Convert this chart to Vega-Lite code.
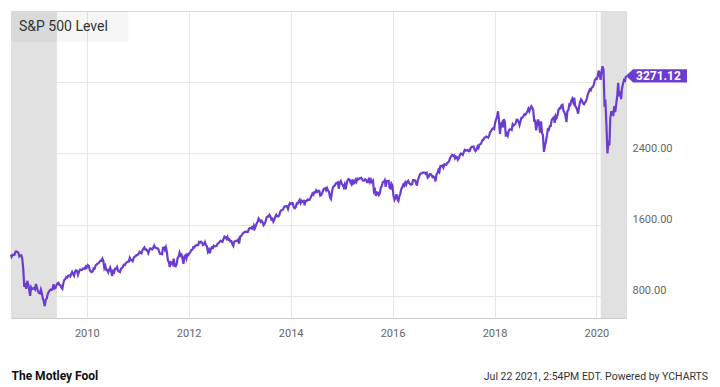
{
"$schema": "https://vega.github.io/schema/vega-lite/v6.json",
"width": 615, "height": 307,
"autosize": {"type": "none"},
"padding": {"left": 11, "top": 11, "right": 94, "bottom": 69},
"background": "white",
"config": {
 "font": "Roboto",
 "view": {"stroke": "#dddddd"},
 "axis": {"grid": true, "gridColor": "#e6e6e6", "ticks": false, "tickSize": 0, "labelColor": "#666666", "labelFont": "Roboto", "labelFontSize": 11, "domain": false}
},
"title": {"text": "Jul 22 2021, 2:54PM EDT.  Powered by YCHARTS", "orient": "bottom", "anchor": "end", "frame": "group", "fontSize": 10.5, "fontWeight": "normal", "color": "#333333", "offset": -9, "dx": 82},
"datasets": {
"rec": [{"s":"2008-07-07","e":"2009-06-01"},{"s":"2020-02-01","e":"2020-07-31"}],
"sp": [
{"d":"2008-07-07","v":1262},{"d":"2008-07-11","v":1239},{"d":"2008-07-18","v":1260},{"d":"2008-07-25","v":1257},{"d":"2008-08-01","v":1260},{"d":"2008-08-08","v":1296},{"d":"2008-08-15","v":1298},{"d":"2008-08-22","v":1292},{"d":"2008-08-29","v":1282},{"d":"2008-09-05","v":1242},{"d":"2008-09-12","v":1252},{"d":"2008-09-19","v":1255},{"d":"2008-09-26","v":1213},{"d":"2008-10-03","v":1099},{"d":"2008-10-10","v":899},{"d":"2008-10-17","v":940},{"d":"2008-10-24","v":877},{"d":"2008-10-31","v":968},{"d":"2008-11-07","v":930},{"d":"2008-11-14","v":873},{"d":"2008-11-21","v":800},{"d":"2008-11-28","v":896},{"d":"2008-12-05","v":876},{"d":"2008-12-12","v":879},{"d":"2008-12-19","v":887},{"d":"2008-12-26","v":872},
{"d":"2009-01-02","v":932},{"d":"2009-01-09","v":890},{"d":"2009-01-16","v":850},{"d":"2009-01-23","v":832},{"d":"2009-01-30","v":826},{"d":"2009-02-06","v":869},{"d":"2009-02-13","v":827},{"d":"2009-02-20","v":770},{"d":"2009-02-27","v":735},{"d":"2009-03-06","v":683},{"d":"2009-03-13","v":756},{"d":"2009-03-20","v":769},{"d":"2009-03-27","v":816},{"d":"2009-04-03","v":843},{"d":"2009-04-09","v":857},{"d":"2009-04-17","v":870},{"d":"2009-04-24","v":866},{"d":"2009-05-01","v":877},{"d":"2009-05-08","v":929},{"d":"2009-05-15","v":882},{"d":"2009-05-22","v":887},{"d":"2009-05-29","v":919},{"d":"2009-06-05","v":940},{"d":"2009-06-12","v":946},{"d":"2009-06-19","v":921},{"d":"2009-06-26","v":918},{"d":"2009-07-02","v":896},{"d":"2009-07-10","v":879},{"d":"2009-07-17","v":940},{"d":"2009-07-24","v":979},{"d":"2009-07-31","v":987},{"d":"2009-08-07","v":1010},{"d":"2009-08-14","v":1005},{"d":"2009-08-21","v":1026},{"d":"2009-08-28","v":1029},{"d":"2009-09-04","v":1016},{"d":"2009-09-11","v":1042},{"d":"2009-09-18","v":1068},{"d":"2009-09-25","v":1044},{"d":"2009-10-02","v":1025},{"d":"2009-10-09","v":1072},{"d":"2009-10-16","v":1087},{"d":"2009-10-23","v":1080},{"d":"2009-10-30","v":1036},{"d":"2009-11-06","v":1069},{"d":"2009-11-13","v":1093},{"d":"2009-11-20","v":1091},{"d":"2009-11-27","v":1091},{"d":"2009-12-04","v":1106},{"d":"2009-12-11","v":1106},{"d":"2009-12-18","v":1102},{"d":"2009-12-24","v":1127},{"d":"2009-12-31","v":1115},
{"d":"2010-01-08","v":1145},{"d":"2010-01-15","v":1136},{"d":"2010-01-22","v":1092},{"d":"2010-01-29","v":1074},{"d":"2010-02-05","v":1066},{"d":"2010-02-12","v":1075},{"d":"2010-02-19","v":1109},{"d":"2010-02-26","v":1104},{"d":"2010-03-05","v":1139},{"d":"2010-03-12","v":1150},{"d":"2010-03-19","v":1160},{"d":"2010-03-26","v":1167},{"d":"2010-04-02","v":1178},{"d":"2010-04-09","v":1194},{"d":"2010-04-16","v":1192},{"d":"2010-04-23","v":1217},{"d":"2010-04-30","v":1187},{"d":"2010-05-07","v":1111},{"d":"2010-05-14","v":1136},{"d":"2010-05-21","v":1088},{"d":"2010-05-28","v":1089},{"d":"2010-06-04","v":1064},{"d":"2010-06-11","v":1092},{"d":"2010-06-18","v":1117},{"d":"2010-06-25","v":1076},{"d":"2010-07-02","v":1022},{"d":"2010-07-09","v":1078},{"d":"2010-07-16","v":1065},{"d":"2010-07-23","v":1103},{"d":"2010-07-30","v":1102},{"d":"2010-08-06","v":1122},{"d":"2010-08-13","v":1080},{"d":"2010-08-20","v":1071},{"d":"2010-08-27","v":1065},{"d":"2010-09-03","v":1105},{"d":"2010-09-10","v":1110},{"d":"2010-09-17","v":1126},{"d":"2010-09-24","v":1149},{"d":"2010-10-01","v":1146},{"d":"2010-10-08","v":1166},{"d":"2010-10-15","v":1176},{"d":"2010-10-22","v":1183},{"d":"2010-10-29","v":1183},{"d":"2010-11-05","v":1226},{"d":"2010-11-12","v":1200},{"d":"2010-11-19","v":1200},{"d":"2010-11-26","v":1189},{"d":"2010-12-03","v":1225},{"d":"2010-12-10","v":1240},{"d":"2010-12-17","v":1244},{"d":"2010-12-23","v":1257},{"d":"2010-12-31","v":1258},
{"d":"2011-01-07","v":1272},{"d":"2011-01-14","v":1293},{"d":"2011-01-21","v":1283},{"d":"2011-01-28","v":1276},{"d":"2011-02-04","v":1311},{"d":"2011-02-11","v":1329},{"d":"2011-02-18","v":1343},{"d":"2011-02-25","v":1320},{"d":"2011-03-04","v":1321},{"d":"2011-03-11","v":1304},{"d":"2011-03-18","v":1279},{"d":"2011-03-25","v":1314},{"d":"2011-04-01","v":1332},{"d":"2011-04-08","v":1328},{"d":"2011-04-15","v":1320},{"d":"2011-04-21","v":1337},{"d":"2011-04-29","v":1364},{"d":"2011-05-06","v":1340},{"d":"2011-05-13","v":1338},{"d":"2011-05-20","v":1333},{"d":"2011-05-27","v":1331},{"d":"2011-06-03","v":1300},{"d":"2011-06-10","v":1271},{"d":"2011-06-17","v":1271},{"d":"2011-06-24","v":1268},{"d":"2011-07-01","v":1340},{"d":"2011-07-08","v":1344},{"d":"2011-07-15","v":1316},{"d":"2011-07-22","v":1345},{"d":"2011-07-29","v":1292},{"d":"2011-08-05","v":1199},{"d":"2011-08-12","v":1178},{"d":"2011-08-19","v":1123},{"d":"2011-08-26","v":1177},{"d":"2011-09-02","v":1174},{"d":"2011-09-09","v":1154},{"d":"2011-09-16","v":1216},{"d":"2011-09-23","v":1136},{"d":"2011-09-30","v":1131},{"d":"2011-10-07","v":1155},{"d":"2011-10-14","v":1224},{"d":"2011-10-21","v":1238},{"d":"2011-10-28","v":1285},{"d":"2011-11-04","v":1253},{"d":"2011-11-11","v":1263},{"d":"2011-11-18","v":1216},{"d":"2011-11-25","v":1159},{"d":"2011-12-02","v":1244},{"d":"2011-12-09","v":1255},{"d":"2011-12-16","v":1219},{"d":"2011-12-23","v":1265},{"d":"2011-12-30","v":1258},
{"d":"2012-01-06","v":1278},{"d":"2012-01-13","v":1289},{"d":"2012-01-20","v":1315},{"d":"2012-01-27","v":1316},{"d":"2012-02-03","v":1345},{"d":"2012-02-10","v":1342},{"d":"2012-02-17","v":1361},{"d":"2012-02-24","v":1366},{"d":"2012-03-02","v":1370},{"d":"2012-03-09","v":1370},{"d":"2012-03-16","v":1404},{"d":"2012-03-23","v":1397},{"d":"2012-03-30","v":1408},{"d":"2012-04-06","v":1398},{"d":"2012-04-13","v":1370},{"d":"2012-04-20","v":1379},{"d":"2012-04-27","v":1403},{"d":"2012-05-04","v":1369},{"d":"2012-05-11","v":1353},{"d":"2012-05-18","v":1295},{"d":"2012-05-25","v":1318},{"d":"2012-06-01","v":1278},{"d":"2012-06-08","v":1325},{"d":"2012-06-15","v":1343},{"d":"2012-06-22","v":1335},{"d":"2012-06-29","v":1362},{"d":"2012-07-06","v":1355},{"d":"2012-07-13","v":1357},{"d":"2012-07-20","v":1363},{"d":"2012-07-27","v":1386},{"d":"2012-08-03","v":1391},{"d":"2012-08-10","v":1406},{"d":"2012-08-17","v":1418},{"d":"2012-08-24","v":1411},{"d":"2012-08-31","v":1407},{"d":"2012-09-07","v":1438},{"d":"2012-09-14","v":1466},{"d":"2012-09-21","v":1460},{"d":"2012-09-28","v":1441},{"d":"2012-10-05","v":1461},{"d":"2012-10-12","v":1429},{"d":"2012-10-19","v":1433},{"d":"2012-10-26","v":1412},{"d":"2012-11-02","v":1414},{"d":"2012-11-09","v":1380},{"d":"2012-11-16","v":1360},{"d":"2012-11-23","v":1409},{"d":"2012-11-30","v":1416},{"d":"2012-12-07","v":1418},{"d":"2012-12-14","v":1413},{"d":"2012-12-21","v":1430},{"d":"2012-12-28","v":1385},
{"d":"2013-01-04","v":1466},{"d":"2013-01-11","v":1472},{"d":"2013-01-18","v":1486},{"d":"2013-01-25","v":1503},{"d":"2013-02-01","v":1513},{"d":"2013-02-08","v":1518},{"d":"2013-02-15","v":1520},{"d":"2013-02-22","v":1516},{"d":"2013-03-01","v":1518},{"d":"2013-03-08","v":1551},{"d":"2013-03-15","v":1561},{"d":"2013-03-22","v":1556},{"d":"2013-03-28","v":1569},{"d":"2013-04-05","v":1553},{"d":"2013-04-12","v":1588},{"d":"2013-04-19","v":1555},{"d":"2013-04-26","v":1582},{"d":"2013-05-03","v":1614},{"d":"2013-05-10","v":1633},{"d":"2013-05-17","v":1667},{"d":"2013-05-24","v":1650},{"d":"2013-05-31","v":1631},{"d":"2013-06-07","v":1643},{"d":"2013-06-14","v":1626},{"d":"2013-06-21","v":1593},{"d":"2013-06-28","v":1606},{"d":"2013-07-05","v":1632},{"d":"2013-07-12","v":1680},{"d":"2013-07-19","v":1692},{"d":"2013-07-26","v":1691},{"d":"2013-08-02","v":1709},{"d":"2013-08-09","v":1691},{"d":"2013-08-16","v":1655},{"d":"2013-08-23","v":1664},{"d":"2013-08-30","v":1633},{"d":"2013-09-06","v":1655},{"d":"2013-09-13","v":1688},{"d":"2013-09-20","v":1710},{"d":"2013-09-27","v":1692},{"d":"2013-10-04","v":1690},{"d":"2013-10-11","v":1703},{"d":"2013-10-18","v":1745},{"d":"2013-10-25","v":1759},{"d":"2013-11-01","v":1762},{"d":"2013-11-08","v":1771},{"d":"2013-11-15","v":1798},{"d":"2013-11-22","v":1804},{"d":"2013-11-29","v":1806},{"d":"2013-12-06","v":1805},{"d":"2013-12-13","v":1775},{"d":"2013-12-20","v":1818},{"d":"2013-12-27","v":1841},
{"d":"2014-01-03","v":1831},{"d":"2014-01-10","v":1842},{"d":"2014-01-17","v":1838},{"d":"2014-01-24","v":1790},{"d":"2014-01-31","v":1783},{"d":"2014-02-07","v":1797},{"d":"2014-02-14","v":1838},{"d":"2014-02-21","v":1836},{"d":"2014-02-28","v":1859},{"d":"2014-03-07","v":1878},{"d":"2014-03-14","v":1841},{"d":"2014-03-21","v":1866},{"d":"2014-03-28","v":1857},{"d":"2014-04-04","v":1865},{"d":"2014-04-11","v":1816},{"d":"2014-04-17","v":1864},{"d":"2014-04-25","v":1863},{"d":"2014-05-02","v":1881},{"d":"2014-05-09","v":1878},{"d":"2014-05-16","v":1878},{"d":"2014-05-23","v":1900},{"d":"2014-05-30","v":1924},{"d":"2014-06-06","v":1949},{"d":"2014-06-13","v":1936},{"d":"2014-06-20","v":1963},{"d":"2014-06-27","v":1961},{"d":"2014-07-03","v":1985},{"d":"2014-07-11","v":1968},{"d":"2014-07-18","v":1978},{"d":"2014-07-25","v":1978},{"d":"2014-08-01","v":1925},{"d":"2014-08-08","v":1932},{"d":"2014-08-15","v":1955},{"d":"2014-08-22","v":1988},{"d":"2014-08-29","v":2003},{"d":"2014-09-05","v":2008},{"d":"2014-09-12","v":1985},{"d":"2014-09-19","v":2010},{"d":"2014-09-26","v":1982},{"d":"2014-10-03","v":1968},{"d":"2014-10-10","v":1906},{"d":"2014-10-17","v":1887},{"d":"2014-10-24","v":1965},{"d":"2014-10-31","v":2018},{"d":"2014-11-07","v":2032},{"d":"2014-11-14","v":2039},{"d":"2014-11-21","v":2064},{"d":"2014-11-28","v":2068},{"d":"2014-12-05","v":2075},{"d":"2014-12-12","v":2003},{"d":"2014-12-19","v":2071},{"d":"2014-12-26","v":2089},
{"d":"2015-01-02","v":2058},{"d":"2015-01-09","v":2045},{"d":"2015-01-16","v":2019},{"d":"2015-01-23","v":2051},{"d":"2015-01-30","v":1995},{"d":"2015-02-06","v":2055},{"d":"2015-02-13","v":2097},{"d":"2015-02-20","v":2110},{"d":"2015-02-27","v":2105},{"d":"2015-03-06","v":2071},{"d":"2015-03-13","v":2053},{"d":"2015-03-20","v":2108},{"d":"2015-03-27","v":2061},{"d":"2015-04-02","v":2067},{"d":"2015-04-10","v":2102},{"d":"2015-04-17","v":2081},{"d":"2015-04-24","v":2117},{"d":"2015-05-01","v":2108},{"d":"2015-05-08","v":2116},{"d":"2015-05-15","v":2123},{"d":"2015-05-22","v":2126},{"d":"2015-05-29","v":2107},{"d":"2015-06-05","v":2092},{"d":"2015-06-12","v":2094},{"d":"2015-06-19","v":2110},{"d":"2015-06-26","v":2102},{"d":"2015-07-02","v":2077},{"d":"2015-07-10","v":2077},{"d":"2015-07-17","v":2127},{"d":"2015-07-24","v":2079},{"d":"2015-07-31","v":2104},{"d":"2015-08-07","v":2078},{"d":"2015-08-14","v":2092},{"d":"2015-08-21","v":1971},{"d":"2015-08-28","v":1989},{"d":"2015-09-04","v":1921},{"d":"2015-09-11","v":1961},{"d":"2015-09-18","v":1958},{"d":"2015-09-25","v":1932},{"d":"2015-10-02","v":1951},{"d":"2015-10-09","v":2015},{"d":"2015-10-16","v":2033},{"d":"2015-10-23","v":2075},{"d":"2015-10-30","v":2079},{"d":"2015-11-06","v":2099},{"d":"2015-11-13","v":2023},{"d":"2015-11-20","v":2089},{"d":"2015-11-27","v":2090},{"d":"2015-12-04","v":2092},{"d":"2015-12-11","v":2012},{"d":"2015-12-18","v":2006},{"d":"2015-12-24","v":2061},{"d":"2015-12-31","v":2044},
{"d":"2016-01-08","v":1922},{"d":"2016-01-15","v":1880},{"d":"2016-01-22","v":1907},{"d":"2016-01-29","v":1940},{"d":"2016-02-05","v":1880},{"d":"2016-02-12","v":1865},{"d":"2016-02-19","v":1918},{"d":"2016-02-26","v":1948},{"d":"2016-03-04","v":2000},{"d":"2016-03-11","v":2022},{"d":"2016-03-18","v":2050},{"d":"2016-03-24","v":2036},{"d":"2016-04-01","v":2073},{"d":"2016-04-08","v":2048},{"d":"2016-04-15","v":2081},{"d":"2016-04-22","v":2092},{"d":"2016-04-29","v":2065},{"d":"2016-05-06","v":2057},{"d":"2016-05-13","v":2047},{"d":"2016-05-20","v":2052},{"d":"2016-05-27","v":2099},{"d":"2016-06-03","v":2099},{"d":"2016-06-10","v":2096},{"d":"2016-06-17","v":2071},{"d":"2016-06-24","v":2037},{"d":"2016-07-01","v":2103},{"d":"2016-07-08","v":2130},{"d":"2016-07-15","v":2162},{"d":"2016-07-22","v":2175},{"d":"2016-07-29","v":2174},{"d":"2016-08-05","v":2183},{"d":"2016-08-12","v":2184},{"d":"2016-08-19","v":2184},{"d":"2016-08-26","v":2169},{"d":"2016-09-02","v":2180},{"d":"2016-09-09","v":2128},{"d":"2016-09-16","v":2139},{"d":"2016-09-23","v":2165},{"d":"2016-09-30","v":2168},{"d":"2016-10-07","v":2153},{"d":"2016-10-14","v":2133},{"d":"2016-10-21","v":2141},{"d":"2016-10-28","v":2126},{"d":"2016-11-04","v":2085},{"d":"2016-11-11","v":2164},{"d":"2016-11-18","v":2182},{"d":"2016-11-25","v":2213},{"d":"2016-12-02","v":2192},{"d":"2016-12-09","v":2259},{"d":"2016-12-16","v":2258},{"d":"2016-12-23","v":2263},{"d":"2016-12-30","v":2239},
{"d":"2017-01-06","v":2277},{"d":"2017-01-13","v":2275},{"d":"2017-01-20","v":2271},{"d":"2017-01-27","v":2295},{"d":"2017-02-03","v":2297},{"d":"2017-02-10","v":2316},{"d":"2017-02-17","v":2351},{"d":"2017-02-24","v":2367},{"d":"2017-03-03","v":2383},{"d":"2017-03-10","v":2373},{"d":"2017-03-17","v":2378},{"d":"2017-03-24","v":2344},{"d":"2017-03-31","v":2363},{"d":"2017-04-07","v":2356},{"d":"2017-04-13","v":2329},{"d":"2017-04-21","v":2349},{"d":"2017-04-28","v":2384},{"d":"2017-05-05","v":2399},{"d":"2017-05-12","v":2391},{"d":"2017-05-19","v":2382},{"d":"2017-05-26","v":2416},{"d":"2017-06-02","v":2439},{"d":"2017-06-09","v":2432},{"d":"2017-06-16","v":2433},{"d":"2017-06-23","v":2438},{"d":"2017-06-30","v":2423},{"d":"2017-07-07","v":2425},{"d":"2017-07-14","v":2459},{"d":"2017-07-21","v":2473},{"d":"2017-07-28","v":2472},{"d":"2017-08-04","v":2477},{"d":"2017-08-11","v":2441},{"d":"2017-08-18","v":2426},{"d":"2017-08-25","v":2443},{"d":"2017-09-01","v":2477},{"d":"2017-09-08","v":2461},{"d":"2017-09-15","v":2500},{"d":"2017-09-22","v":2502},{"d":"2017-09-29","v":2519},{"d":"2017-10-06","v":2549},{"d":"2017-10-13","v":2553},{"d":"2017-10-20","v":2575},{"d":"2017-10-27","v":2581},{"d":"2017-11-03","v":2588},{"d":"2017-11-10","v":2582},{"d":"2017-11-17","v":2578},{"d":"2017-11-24","v":2602},{"d":"2017-12-01","v":2642},{"d":"2017-12-08","v":2652},{"d":"2017-12-15","v":2675},{"d":"2017-12-22","v":2683},{"d":"2017-12-29","v":2674},
{"d":"2018-01-05","v":2743},{"d":"2018-01-12","v":2786},{"d":"2018-01-19","v":2810},{"d":"2018-01-26","v":2873},{"d":"2018-02-02","v":2762},{"d":"2018-02-09","v":2620},{"d":"2018-02-16","v":2732},{"d":"2018-02-23","v":2747},{"d":"2018-03-02","v":2691},{"d":"2018-03-09","v":2786},{"d":"2018-03-16","v":2752},{"d":"2018-03-23","v":2588},{"d":"2018-03-29","v":2641},{"d":"2018-04-06","v":2604},{"d":"2018-04-13","v":2656},{"d":"2018-04-20","v":2670},{"d":"2018-04-27","v":2670},{"d":"2018-05-04","v":2663},{"d":"2018-05-11","v":2728},{"d":"2018-05-18","v":2713},{"d":"2018-05-25","v":2721},{"d":"2018-06-01","v":2735},{"d":"2018-06-08","v":2779},{"d":"2018-06-15","v":2780},{"d":"2018-06-22","v":2755},{"d":"2018-06-29","v":2718},{"d":"2018-07-06","v":2760},{"d":"2018-07-13","v":2801},{"d":"2018-07-20","v":2802},{"d":"2018-07-27","v":2819},{"d":"2018-08-03","v":2840},{"d":"2018-08-10","v":2833},{"d":"2018-08-17","v":2850},{"d":"2018-08-24","v":2875},{"d":"2018-08-31","v":2902},{"d":"2018-09-07","v":2872},{"d":"2018-09-14","v":2905},{"d":"2018-09-21","v":2930},{"d":"2018-09-28","v":2914},{"d":"2018-10-05","v":2886},{"d":"2018-10-12","v":2767},{"d":"2018-10-19","v":2768},{"d":"2018-10-26","v":2659},{"d":"2018-11-02","v":2723},{"d":"2018-11-09","v":2781},{"d":"2018-11-16","v":2736},{"d":"2018-11-23","v":2633},{"d":"2018-11-30","v":2760},{"d":"2018-12-07","v":2633},{"d":"2018-12-14","v":2600},{"d":"2018-12-21","v":2417},{"d":"2018-12-28","v":2486},
{"d":"2019-01-04","v":2532},{"d":"2019-01-11","v":2596},{"d":"2019-01-18","v":2671},{"d":"2019-01-25","v":2665},{"d":"2019-02-01","v":2707},{"d":"2019-02-08","v":2708},{"d":"2019-02-15","v":2776},{"d":"2019-02-22","v":2793},{"d":"2019-03-01","v":2804},{"d":"2019-03-08","v":2743},{"d":"2019-03-15","v":2822},{"d":"2019-03-22","v":2801},{"d":"2019-03-29","v":2834},{"d":"2019-04-05","v":2893},{"d":"2019-04-12","v":2907},{"d":"2019-04-18","v":2905},{"d":"2019-04-26","v":2940},{"d":"2019-05-03","v":2946},{"d":"2019-05-10","v":2881},{"d":"2019-05-17","v":2860},{"d":"2019-05-24","v":2826},{"d":"2019-05-31","v":2752},{"d":"2019-06-07","v":2873},{"d":"2019-06-14","v":2887},{"d":"2019-06-21","v":2950},{"d":"2019-06-28","v":2942},{"d":"2019-07-05","v":2990},{"d":"2019-07-12","v":3014},{"d":"2019-07-19","v":2977},{"d":"2019-07-26","v":3026},{"d":"2019-08-02","v":2932},{"d":"2019-08-09","v":2919},{"d":"2019-08-16","v":2889},{"d":"2019-08-23","v":2847},{"d":"2019-08-30","v":2926},{"d":"2019-09-06","v":2979},{"d":"2019-09-13","v":3007},{"d":"2019-09-20","v":2992},{"d":"2019-09-27","v":2962},{"d":"2019-10-04","v":2952},{"d":"2019-10-11","v":2970},{"d":"2019-10-18","v":2986},{"d":"2019-10-25","v":3023},{"d":"2019-11-01","v":3067},{"d":"2019-11-08","v":3093},{"d":"2019-11-15","v":3120},{"d":"2019-11-22","v":3110},{"d":"2019-11-29","v":3141},{"d":"2019-12-06","v":3146},{"d":"2019-12-13","v":3169},{"d":"2019-12-20","v":3221},{"d":"2019-12-27","v":3240},
{"d":"2020-01-03","v":3235},{"d":"2020-01-10","v":3265},{"d":"2020-01-17","v":3330},{"d":"2020-01-24","v":3295},{"d":"2020-01-31","v":3226},{"d":"2020-02-07","v":3328},{"d":"2020-02-14","v":3380},{"d":"2020-02-21","v":3338},{"d":"2020-02-28","v":2954},{"d":"2020-03-06","v":2972},{"d":"2020-03-13","v":2711},{"d":"2020-03-20","v":2400},{"d":"2020-03-27","v":2541},{"d":"2020-04-03","v":2489},{"d":"2020-04-09","v":2790},{"d":"2020-04-17","v":2875},{"d":"2020-04-24","v":2837},{"d":"2020-05-01","v":2831},{"d":"2020-05-08","v":2930},{"d":"2020-05-15","v":2864},{"d":"2020-05-22","v":2955},{"d":"2020-05-29","v":3044},{"d":"2020-06-05","v":3194},{"d":"2020-06-12","v":3041},{"d":"2020-06-19","v":3098},{"d":"2020-06-26","v":3009},{"d":"2020-07-02","v":3130},{"d":"2020-07-10","v":3185},{"d":"2020-07-17","v":3225},{"d":"2020-07-24","v":3216},{"d":"2020-07-31","v":3271.12}
]
},
"layer": [
{
 "data": {"name": "rec"},
 "mark": {"type": "rect", "color": "#e1e1e1"},
 "encoding": {
  "x": {"field": "s", "type": "temporal", "scale": {"domain": [{"year": 2008, "month": 7, "date": 7}, {"year": 2020, "month": 7, "date": 31}], "nice": false},
   "axis": {"values": [{"year": 2010}, {"year": 2012}, {"year": 2014}, {"year": 2016}, {"year": 2018}, {"year": 2020}], "format": "%Y", "labelPadding": 9, "labelFlush": false, "domain": true, "domainColor": "#cccccc", "title": "The Motley Fool", "titleAnchor": "start", "titleAlign": "left", "titleFontSize": 12, "titleFontWeight": "bold", "titleColor": "#111111", "titlePadding": 32}},
  "x2": {"field": "e"}
 }
},
{
 "data": {"values": [{"t": "S&P 500 Level"}]},
 "mark": {"type": "rect", "color": "#000000", "opacity": 0.035},
 "encoding": {
  "x": {"datum": {"year": 2008, "month": 7, "date": 7}, "type": "temporal", "scale": {"domain": [{"year": 2008, "month": 7, "date": 7}, {"year": 2020, "month": 7, "date": 31}], "nice": false},
   "axis": {"values": [{"year": 2010}, {"year": 2012}, {"year": 2014}, {"year": 2016}, {"year": 2018}, {"year": 2020}], "format": "%Y", "labelPadding": 9, "labelFlush": false, "domain": true, "domainColor": "#cccccc", "title": "The Motley Fool", "titleAnchor": "start", "titleAlign": "left", "titleFontSize": 12, "titleFontWeight": "bold", "titleColor": "#111111", "titlePadding": 32}},
  "x2": {"datum": {"year": 2010, "month": 10, "date": 27}},
  "y": {"datum": 4000, "type": "quantitative", "scale": {"domain": [550, 4000], "nice": false, "zero": false},
   "axis": {"orient": "right", "values": [800, 1600, 2400, 3200], "labelExpr": "datum.value == 3200 ? '' : format(datum.value, '.2f')", "labelPadding": 6, "labelBaseline": "bottom", "title": null}},
  "y2": {"datum": 3651}
 }
},
{
 "data": {"values": [{"t": "S&P 500 Level"}]},
 "mark": {"type": "text", "align": "left", "baseline": "middle", "dx": 8, "fontSize": 14, "color": "#333333", "font": "Roboto"},
 "encoding": {
  "x": {"datum": {"year": 2008, "month": 7, "date": 7}, "type": "temporal", "scale": {"domain": [{"year": 2008, "month": 7, "date": 7}, {"year": 2020, "month": 7, "date": 31}], "nice": false},
   "axis": {"values": [{"year": 2010}, {"year": 2012}, {"year": 2014}, {"year": 2016}, {"year": 2018}, {"year": 2020}], "format": "%Y", "labelPadding": 9, "labelFlush": false, "domain": true, "domainColor": "#cccccc", "title": "The Motley Fool", "titleAnchor": "start", "titleAlign": "left", "titleFontSize": 12, "titleFontWeight": "bold", "titleColor": "#111111", "titlePadding": 32}},
  "y": {"datum": 3820, "type": "quantitative", "scale": {"domain": [550, 4000], "nice": false, "zero": false},
   "axis": {"orient": "right", "values": [800, 1600, 2400, 3200], "labelExpr": "datum.value == 3200 ? '' : format(datum.value, '.2f')", "labelPadding": 6, "labelBaseline": "bottom", "title": null}},
  "text": {"field": "t"}
 }
},
{
 "data": {"name": "sp"},
 "mark": {"type": "line", "color": "#6a3cd0", "strokeWidth": 2.2},
 "encoding": {
  "x": {"field": "d", "type": "temporal", "scale": {"domain": [{"year": 2008, "month": 7, "date": 7}, {"year": 2020, "month": 7, "date": 31}], "nice": false},
   "axis": {"values": [{"year": 2010}, {"year": 2012}, {"year": 2014}, {"year": 2016}, {"year": 2018}, {"year": 2020}], "format": "%Y", "labelPadding": 9, "labelFlush": false, "domain": true, "domainColor": "#cccccc", "title": "The Motley Fool", "titleAnchor": "start", "titleAlign": "left", "titleFontSize": 12, "titleFontWeight": "bold", "titleColor": "#111111", "titlePadding": 32}},
  "y": {"field": "v", "type": "quantitative", "scale": {"domain": [550, 4000], "nice": false, "zero": false},
   "axis": {"orient": "right", "values": [800, 1600, 2400, 3200], "labelExpr": "datum.value == 3200 ? '' : format(datum.value, '.2f')", "labelPadding": 6, "labelBaseline": "bottom", "title": null}}
 }
},
{
 "data": {"name": "sp"},
 "transform": [{"filter": "datum.v == 3271.12"}],
 "mark": {"type": "point", "shape": "M0,0L0.35,-0.335L3.05,-0.335L3.05,0.335L0.35,0.335Z", "size": 1600, "filled": true, "fill": "#6a3cd0", "opacity": 1, "strokeWidth": 0},
 "encoding": {
  "x": {"field": "d", "type": "temporal", "scale": {"domain": [{"year": 2008, "month": 7, "date": 7}, {"year": 2020, "month": 7, "date": 31}], "nice": false},
   "axis": {"values": [{"year": 2010}, {"year": 2012}, {"year": 2014}, {"year": 2016}, {"year": 2018}, {"year": 2020}], "format": "%Y", "labelPadding": 9, "labelFlush": false, "domain": true, "domainColor": "#cccccc", "title": "The Motley Fool", "titleAnchor": "start", "titleAlign": "left", "titleFontSize": 12, "titleFontWeight": "bold", "titleColor": "#111111", "titlePadding": 32}},
  "y": {"field": "v", "type": "quantitative", "scale": {"domain": [550, 4000], "nice": false, "zero": false},
   "axis": {"orient": "right", "values": [800, 1600, 2400, 3200], "labelExpr": "datum.value == 3200 ? '' : format(datum.value, '.2f')", "labelPadding": 6, "labelBaseline": "bottom", "title": null}}
 }
},
{
 "data": {"name": "sp"},
 "transform": [{"filter": "datum.v == 3271.12"}],
 "mark": {"type": "text", "align": "left", "baseline": "middle", "dx": 10, "dy": 0.5, "fontSize": 12, "fontWeight": "bold", "color": "#ffffff", "font": "Roboto"},
 "encoding": {
  "x": {"field": "d", "type": "temporal", "scale": {"domain": [{"year": 2008, "month": 7, "date": 7}, {"year": 2020, "month": 7, "date": 31}], "nice": false},
   "axis": {"values": [{"year": 2010}, {"year": 2012}, {"year": 2014}, {"year": 2016}, {"year": 2018}, {"year": 2020}], "format": "%Y", "labelPadding": 9, "labelFlush": false, "domain": true, "domainColor": "#cccccc", "title": "The Motley Fool", "titleAnchor": "start", "titleAlign": "left", "titleFontSize": 12, "titleFontWeight": "bold", "titleColor": "#111111", "titlePadding": 32}},
  "y": {"field": "v", "type": "quantitative", "scale": {"domain": [550, 4000], "nice": false, "zero": false},
   "axis": {"orient": "right", "values": [800, 1600, 2400, 3200], "labelExpr": "datum.value == 3200 ? '' : format(datum.value, '.2f')", "labelPadding": 6, "labelBaseline": "bottom", "title": null}},
  "text": {"field": "v", "type": "quantitative", "format": ".2f"}
 }
}
]
}
